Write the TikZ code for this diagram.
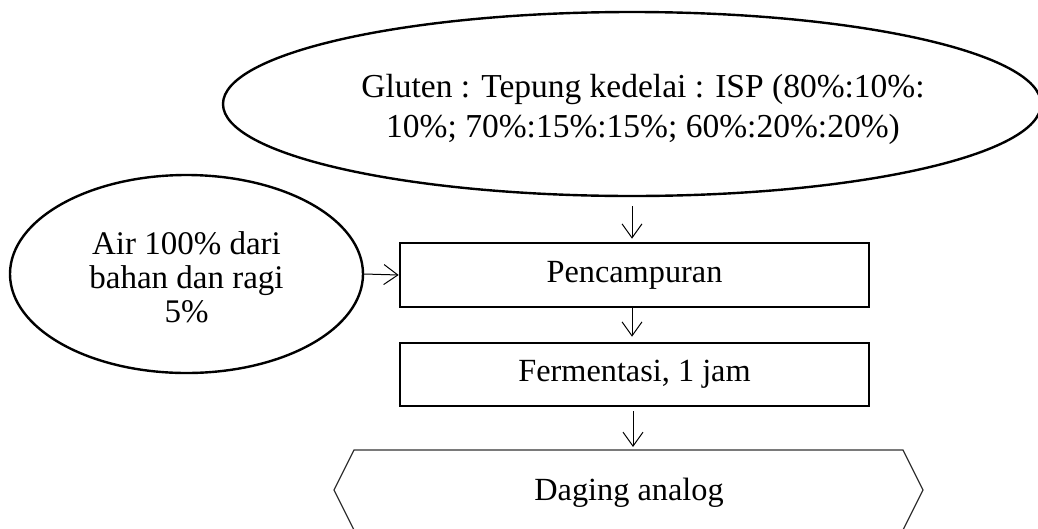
\documentclass[tikz,border=0pt]{standalone}
\usepackage{fontspec}
\setmainfont{Liberation Serif}
\usetikzlibrary{shapes.geometric,arrows.meta}
\begin{document}
\begin{tikzpicture}[x=1pt,y=-1pt,
  every node/.style={font=\fontsize{32.3}{36}\selectfont},
  oval/.style={ellipse,draw,line width=2.4pt,inner sep=0pt,align=center},
  stepbox/.style={rectangle,draw,line width=2.6pt,inner sep=0pt},
  conn/.style={line width=1pt,-{Straight Barb[length=14pt,width=20pt,line width=1pt]}},
  hexline/.style={line width=1.3pt,draw=black!80}
]
\useasboundingbox (0,0) rectangle (1038,528);
\clip (0,0) rectangle (1038,528);
\fill[white] (0,0) rectangle (1038,528);

% ellipses
\node[oval,minimum width=818pt,minimum height=184pt] (ing) at (632,104) {};
\node[align=center,font=\fontsize{33.5}{40}\selectfont] (ingtxt) at (643,109)
  {Gluten : Tepung kedelai : ISP (80\%:10\%:\\10\%; 70\%:15\%:15\%; 60\%:20\%:20\%)};
\node[oval,minimum width=353pt,minimum height=198pt] (air) at (186.5,274) {};
\node[align=center,font=\fontsize{33}{34}\selectfont] (airtxt) at (186.5,277)
  {Air 100\% dari\\bahan dan ragi\\5\%};

% boxes
\node[stepbox,minimum width=469pt,minimum height=64pt] (pen) at (634.5,275) {Pencampuran};
\node[stepbox,minimum width=469pt,minimum height=63pt] (fer) at (634.5,374.5) {Fermentasi, 1 jam};

% hexagon
\coordinate (htop) at (633,450);
\draw[hexline] (354,450) -- (903,450) -- (923,490) -- (903,530) -- (354,530) -- (334,490) -- cycle;
\node (hex) at (629,493) {Daging analog};

% connectors
\draw[conn,shorten <=9pt,shorten >=3pt] (ing.south -| 632,0) -- (pen.north -| 632,0);
\draw[conn] (air.east) -- (pen.west);
\draw[conn,shorten >=5pt] (pen.south -| 632,0) -- (fer.north -| 632,0);
\draw[conn,shorten <=4pt,shorten >=3pt] (fer.south -| 633,0) -- (htop);
\end{tikzpicture}
\end{document}
